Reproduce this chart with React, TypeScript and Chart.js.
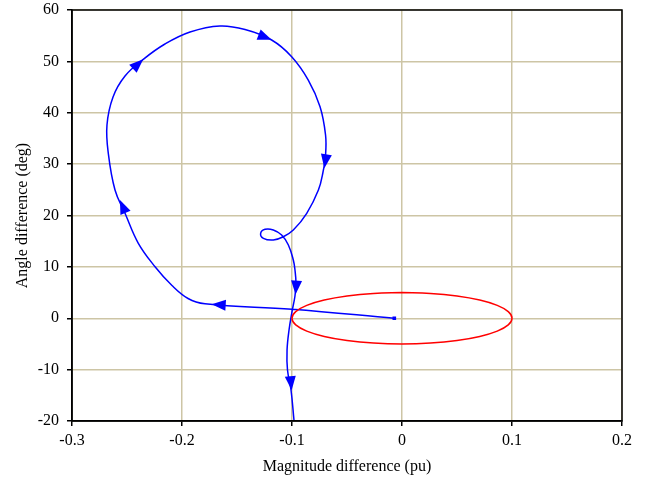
import React, { useEffect, useRef } from "react";
import { Chart, registerables } from "chart.js";
Chart.register(...registerables);

// Blue trajectory (magnitude difference, angle difference), in time order
const pathX = [
  -0.007, -0.1, -0.1791, -0.1945, -0.2091, -0.2245, -0.2397, -0.2518, -0.2609, -0.267,
  -0.2682, -0.2627, -0.2518, -0.2352, -0.2155, -0.1927, -0.1655, -0.1427, -0.1185, -0.1003,
  -0.0852, -0.0745, -0.0695, -0.0695, -0.0718, -0.076, -0.0866, -0.0988, -0.1079, -0.117,
  -0.126, -0.1285, -0.1245, -0.117, -0.1094, -0.1033, -0.0988, -0.0973, -0.0964, -0.0973,
  -0.0997, -0.1027, -0.1045, -0.1041, -0.1009, -0.0982,
];
const pathY = [
  0, 1.74, 2.82, 3.84, 6.37, 10.03, 14.59, 20.43, 24.96, 32.11,
  37.62, 43.07, 47.15, 50.4, 53.38, 55.72, 56.89, 56.2, 54.16, 50.91,
  46.37, 41.18, 35.67, 31.78, 28.47, 24.96, 20.43, 17.18, 15.87, 15.23,
  15.56, 16.53, 17.31, 17.18, 16.2, 14.26, 11.34, 9.39, 6.86, 4.33,
  1.61, -2.29, -6.18, -10.07, -13.97, -19.81,
];

// Red boundary ellipse points (closed loop, starting at the top)
const ellipseX = [
  0, 0.0259, 0.05, 0.0707, 0.0866, 0.0966, 0.1, 0.0966, 0.0866, 0.0707, 0.05, 0.0259,
  0, -0.0259, -0.05, -0.0707, -0.0866, -0.0966, -0.1, -0.0966, -0.0866, -0.0707, -0.05, -0.0259, 0,
];
const ellipseY = [
  5, 4.83, 4.33, 3.54, 2.5, 1.29, 0, -1.29, -2.5, -3.54, -4.33, -4.83,
  -5, -4.83, -4.33, -3.54, -2.5, -1.29, 0, 1.29, 2.5, 3.54, 4.33, 4.83, 5,
];

// Arrowhead tips along the trajectory
const arrowX = [-0.173, -0.2564, -0.2352, -0.1185, -0.0706, -0.0968, -0.1003];
const arrowY = [2.72, 23.0, 50.4, 54.2, 29.2, 4.6, -14.0];

const xTicks = [-0.3, -0.2, -0.1, 0, 0.1, 0.2];
const yTicks = [-20, -10, 0, 10, 20, 30, 40, 50, 60];

const FONT = "'Liberation Serif', 'Times New Roman', serif";
const GRID = "#cdc5a5";

const arrowPlugin = {
  id: "arrows",
  afterDatasetsDraw(chart: any) {
    const xs = chart.scales.x;
    const ys = chart.scales.y;
    const ctx = chart.ctx;
    const px = pathX.map((v) => xs.getPixelForValue(v));
    const py = pathY.map((v) => ys.getPixelForValue(v));
    ctx.save();
    ctx.fillStyle = "#0000ff";
    for (let k = 0; k < arrowX.length; k++) {
      const tx = xs.getPixelForValue(arrowX[k]);
      const ty = ys.getPixelForValue(arrowY[k]);
      let best = 0;
      let bestD = Infinity;
      for (let i = 0; i < px.length - 1; i++) {
        const ax = px[i], ay = py[i], bx = px[i + 1], by = py[i + 1];
        const dx = bx - ax, dy = by - ay;
        const l2 = dx * dx + dy * dy || 1;
        let t = ((tx - ax) * dx + (ty - ay) * dy) / l2;
        t = Math.max(0, Math.min(1, t));
        const cx = ax + t * dx, cy = ay + t * dy;
        const d = (cx - tx) ** 2 + (cy - ty) ** 2;
        if (d < bestD) {
          bestD = d;
          best = i;
        }
      }
      let dx = px[best + 1] - px[best];
      let dy = py[best + 1] - py[best];
      const len = Math.hypot(dx, dy) || 1;
      dx /= len;
      dy /= len;
      const L = 14, W = 5.5;
      const bx = tx - dx * L, by = ty - dy * L;
      ctx.beginPath();
      ctx.moveTo(tx, ty);
      ctx.lineTo(bx - dy * W, by + dx * W);
      ctx.lineTo(bx + dy * W, by - dx * W);
      ctx.closePath();
      ctx.fill();
    }
    ctx.restore();
  },
};

const boxPlugin = {
  id: "box",
  afterDraw(chart: any) {
    const a = chart.chartArea;
    const ctx = chart.ctx;
    ctx.save();
    ctx.strokeStyle = "#000";
    ctx.lineWidth = 1.5;
    ctx.strokeRect(a.left, a.top, a.right - a.left, a.bottom - a.top);
    ctx.restore();
  },
};

export default function App() {
  const ref = useRef<HTMLCanvasElement | null>(null);
  useEffect(() => {
    if (!ref.current) return;
    const chart = new Chart(ref.current, {
      type: "scatter",
      data: {
        datasets: [
          {
            label: "boundary",
            data: ellipseX.map((x, i) => ({ x, y: ellipseY[i] })),
            showLine: true,
            borderColor: "#ff0000",
            borderWidth: 1.5,
            pointRadius: 0,
            tension: 0.4,
            fill: false,
          },
          {
            label: "trajectory",
            data: pathX.map((x, i) => ({ x, y: pathY[i] })),
            showLine: true,
            borderColor: "#0000ff",
            backgroundColor: "#0000ff",
            borderWidth: 1.5,
            pointRadius: pathX.map((_, i) => (i === 0 ? 1.5 : 0)),
            pointStyle: "rect",
            tension: 0.4,
            fill: false,
          },
        ],
      },
      options: {
        responsive: false,
        animation: false,
        layout: { padding: { left: 0, top: 10, right: 28, bottom: 0 } },
        plugins: {
          legend: { display: false },
          tooltip: { enabled: false },
        },
        scales: {
          x: {
            type: "linear",
            min: -0.3,
            max: 0.2,
            afterBuildTicks: (s: any) => {
              s.ticks = xTicks.map((v) => ({ value: v }));
            },
            afterFit: (s: any) => {
              s.height = 59;
              s.paddingLeft = 0;
              s.paddingRight = 0;
            },
            ticks: {
              color: "#000",
              font: { family: FONT, size: 16 },
              padding: 5,
              maxRotation: 0,
              callback: (v: any) => (Number(v) === 0 ? "0" : Number(v).toFixed(1)),
            },
            grid: { color: GRID, lineWidth: 1.5, tickColor: "#000", tickLength: 5, tickWidth: 1.5 },
            border: { color: "#000", width: 1.5 },
            title: {
              display: true,
              text: "Magnitude difference (pu)",
              color: "#000",
              font: { family: FONT, size: 16 },
              padding: { top: 0, bottom: 4 },
            },
          },
          y: {
            type: "linear",
            min: -20,
            max: 60,
            afterBuildTicks: (s: any) => {
              s.ticks = yTicks.map((v) => ({ value: v }));
            },
            afterFit: (s: any) => {
              s.width = 72;
              s.paddingTop = 0;
              s.paddingBottom = 0;
            },
            ticks: {
              color: "#000",
              font: { family: FONT, size: 16 },
              padding: 8,
              callback: (v: any) => String(v),
            },
            grid: { color: GRID, lineWidth: 1.5, tickColor: "#000", tickLength: 5, tickWidth: 1.5 },
            border: { color: "#000", width: 1.5 },
            title: {
              display: true,
              text: "Angle difference (deg)",
              color: "#000",
              font: { family: FONT, size: 16 },
              padding: { top: 13, bottom: 0 },
            },
          },
        },
      },
      plugins: [arrowPlugin, boxPlugin],
    });
    return () => chart.destroy();
  }, []);
  return (
    <div style={{ position: "fixed", left: 0, top: 0, width: 650, height: 480, background: "#fff" }}>
      <canvas ref={ref} width={650} height={480} style={{ display: "block" }} />
    </div>
  );
}
